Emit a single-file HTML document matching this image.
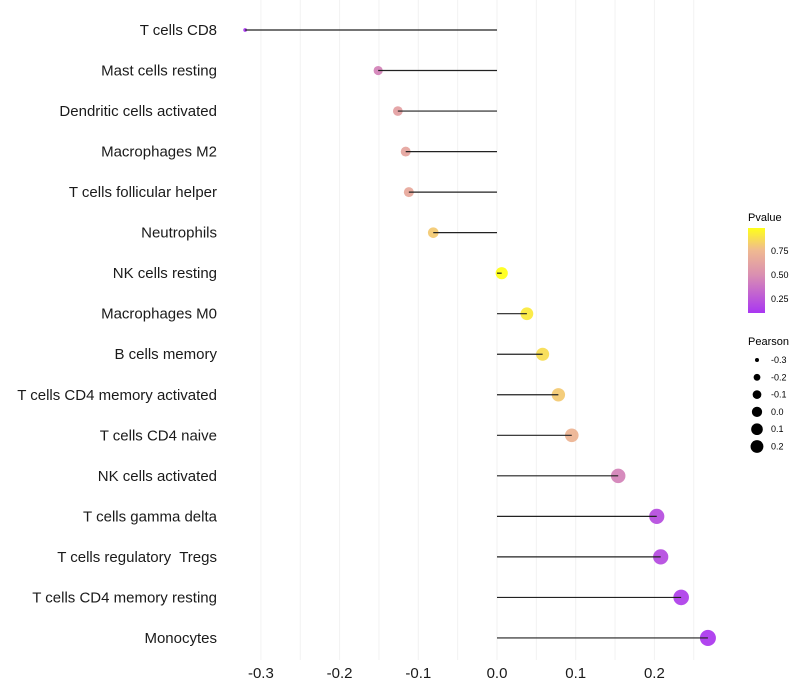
<!DOCTYPE html>
<html><head><meta charset="utf-8"><style>
body{margin:0;background:#fff;}
svg{display:block;font-family:"Liberation Sans",sans-serif;}
text{white-space:pre;}
</style></head><body>
<svg id="chart" width="800" height="700">
<defs><linearGradient id="pg" x1="0" y1="1" x2="0" y2="0">
<stop offset="0" stop-color="#a020f0"/><stop offset="0.45" stop-color="#d683a8"/><stop offset="0.74" stop-color="#eeb284"/><stop offset="1" stop-color="#ffff00"/></linearGradient></defs>
<g id="grid"></g>
<g id="marks"></g>
<g id="ylabels"></g>
<g id="xlabels"></g>
<g>
<text x="748" y="221" font-size="11">Pvalue</text>
<rect x="748" y="228" width="17" height="85" fill="url(#pg)" opacity="0.9"/>
<text x="771" y="254" font-size="9">0.75</text>
<text x="771" y="278" font-size="9">0.50</text>
<text x="771" y="302" font-size="9">0.25</text>
</g>
<g id="sizeleg">
<text x="748" y="345" font-size="11">Pearson</text>
</g>
</svg>
<script>
const categories=["T cells CD8","Mast cells resting","Dendritic cells activated","Macrophages M2","T cells follicular helper","Neutrophils","NK cells resting","Macrophages M0","B cells memory","T cells CD4 memory activated","T cells CD4 naive","NK cells activated","T cells gamma delta","T cells regulatory  Tregs","T cells CD4 memory resting","Monocytes"];
const pearson=[-0.320,-0.151,-0.126,-0.116,-0.112,-0.081,0.006,0.038,0.058,0.078,0.095,0.154,0.203,0.208,0.234,0.268];
const pvalue=[0.11,0.45,0.6,0.63,0.65,0.8,0.97,0.9,0.86,0.8,0.72,0.45,0.22,0.21,0.16,0.13];
const xTicks=[-0.3,-0.2,-0.1,0.0,0.1,0.2];
const xTickLabels=["-0.3","-0.2","-0.1","0.0","0.1","0.2"];
const sizeLegendVals=[-0.3,-0.2,-0.1,0.0,0.1,0.2];
const sizeLegendLabels=["-0.3","-0.2","-0.1","0.0","0.1","0.2"];

const NS="http://www.w3.org/2000/svg";
const xScale=v=>497+v*787;
const yScale=i=>30+i*40.53;
const rScale=v=>Math.sqrt(2.5+(v+0.33)/0.6*62);
const pMin=0.11,pMax=0.97;
const stops=[[0,[160,32,240]],[0.45,[214,131,168]],[0.74,[238,178,132]],[1,[255,255,0]]];
function colorOf(p){let t=Math.max(0,Math.min(1,(p-pMin)/(pMax-pMin)));
 for(let k=1;k<stops.length;k++){if(t<=stops[k][0]){const a=stops[k-1],b=stops[k];const u=(t-a[0])/(b[0]-a[0]);
 return "rgb("+a[1].map((c,j)=>Math.round(c+(b[1][j]-c)*u)).join(",")+")";}}return "rgb(255,255,0)";}
function mk(tag,attrs,parent){const e=document.createElementNS(NS,tag);for(const k in attrs)e.setAttribute(k,attrs[k]);parent.appendChild(e);return e;}

const grid=document.getElementById("grid");
for(let v=-0.3;v<=0.25+1e-9;v+=0.05){
 const l=mk("line",{x1:xScale(v),x2:xScale(v),y1:0,y2:660,stroke:"#f2f2f2","stroke-width":1},grid);
 
 
}
const marks=document.getElementById("marks");
const yl=document.getElementById("ylabels");
categories.forEach((c,i)=>{
 const y=yScale(i);
 const pt=mk("circle",{cx:xScale(pearson[i]),cy:y,r:rScale(pearson[i]),fill:colorOf(pvalue[i]),"fill-opacity":0.85},marks);
 
 
 const seg=mk("line",{x1:xScale(0),x2:xScale(pearson[i]),y1:y,y2:y,stroke:"#222","stroke-width":1.2},marks);
 
 
 const t=mk("text",{x:217,y:y+5,"text-anchor":"end","font-size":15,fill:"#1a1a1a"},yl);
 t.textContent=c;
 
 
});
const xl=document.getElementById("xlabels");
xTicks.forEach((v,i)=>{
 const t=mk("text",{x:xScale(v),y:678,"text-anchor":"middle","font-size":15,fill:"#1a1a1a"},xl);
 t.textContent=xTickLabels[i];
 
 
});
const sl=document.getElementById("sizeleg");
sizeLegendVals.forEach((v,i)=>{
 const y=360+i*17.3;
 const c=mk("circle",{cx:757,cy:y,r:rScale(v)*0.85,fill:"#000"},sl);
 
 
 const t=mk("text",{x:771,y:y+3,"font-size":9},sl);
 t.textContent=sizeLegendLabels[i];
 
 
});
</script>
</body></html>
